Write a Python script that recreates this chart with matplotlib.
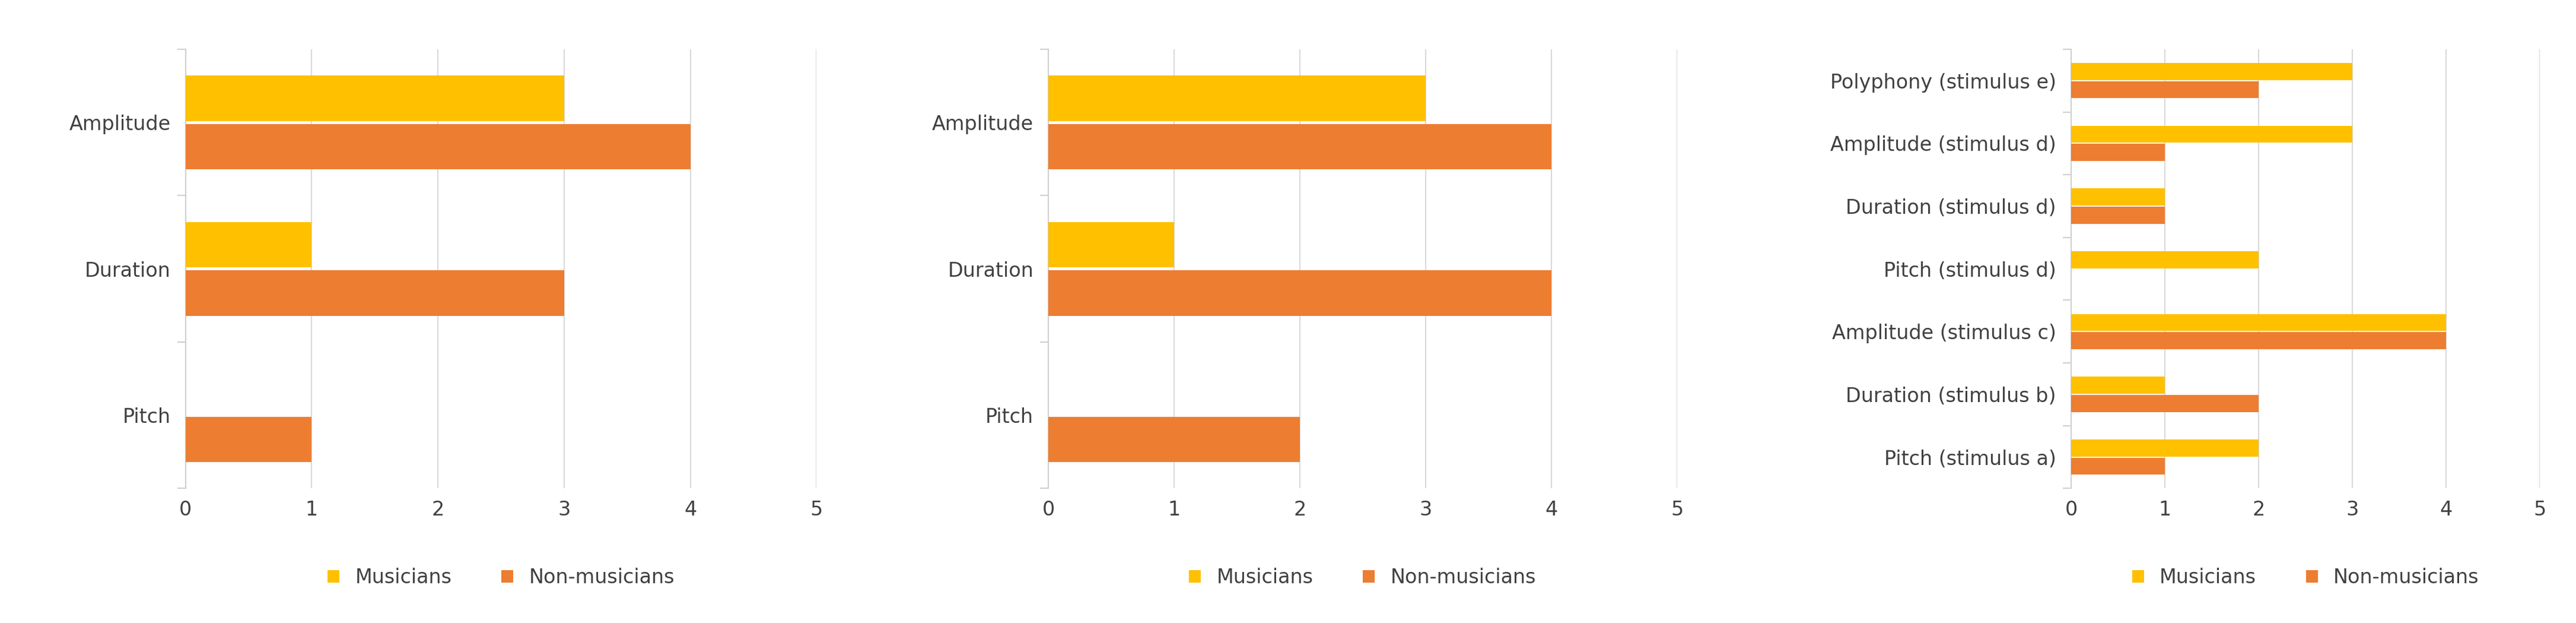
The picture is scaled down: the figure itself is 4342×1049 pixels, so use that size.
import numpy as np
import matplotlib.pyplot as plt

cats1 = ["Pitch", "Duration", "Amplitude"]
mus1 = [0, 1, 3]
non1 = [1, 3, 4]

cats2 = ["Pitch", "Duration", "Amplitude"]
mus2 = [0, 1, 3]
non2 = [2, 4, 4]

cats3 = ["Pitch (stimulus a)", "Duration (stimulus b)", "Amplitude (stimulus c)",
         "Pitch (stimulus d)", "Duration (stimulus d)", "Amplitude (stimulus d)",
         "Polyphony (stimulus e)"]
mus3 = [2, 1, 4, 2, 1, 3, 3]
non3 = [1, 2, 4, 0, 1, 1, 2]

YEL = "#FFC000"
ORA = "#ED7D31"

fig = plt.figure(figsize=(43.42, 10.49), dpi=100)
panels = [
    ([0.072, 0.216, 0.245, 0.705], cats1, mus1, non1, 0.31, 24),
    ([0.407, 0.216, 0.244, 0.705], cats2, mus2, non2, 0.31, 24),
    ([0.804, 0.216, 0.182, 0.705], cats3, mus3, non3, 0.27, 24),
]
for rect, cats, mus, non, h, fs in panels:
    ax = fig.add_axes(rect)
    y = np.arange(len(cats))
    ax.barh(y + h / 2 + 0.01, mus, height=h, color=YEL, label="Musicians", zorder=3)
    ax.barh(y - h / 2 - 0.01, non, height=h, color=ORA, label="Non-musicians", zorder=3)
    ax.set_xlim(0, 5)
    ax.set_ylim(-0.5, len(cats) - 0.5)
    ax.set_yticks(y)
    ax.set_yticklabels(cats, fontsize=fs, color="#404040")
    ax.set_yticks(np.arange(-0.5, len(cats), 1), minor=True)
    ax.tick_params(axis="y", which="major", length=0, pad=18)
    ax.tick_params(axis="y", which="minor", length=10, width=1.5, color="#D0D0D0")
    ax.set_xticks(range(6))
    ax.tick_params(axis="x", length=0, labelsize=fs, labelcolor="#404040", pad=14)
    ax.grid(axis="x", color="#D9D9D9", linewidth=1.5, zorder=0)
    for s in ["top", "right", "bottom"]:
        ax.spines[s].set_visible(False)
    ax.spines["left"].set_color("#D0D0D0")
    ax.spines["left"].set_linewidth(1.5)
    ax.legend(loc="upper center", bbox_to_anchor=(0.5, -0.14), ncol=2, frameon=False,
              fontsize=fs, handlelength=0.6, handleheight=0.6, columnspacing=2.5,
              labelcolor="#404040")

fig.savefig("out.png", dpi=100)
